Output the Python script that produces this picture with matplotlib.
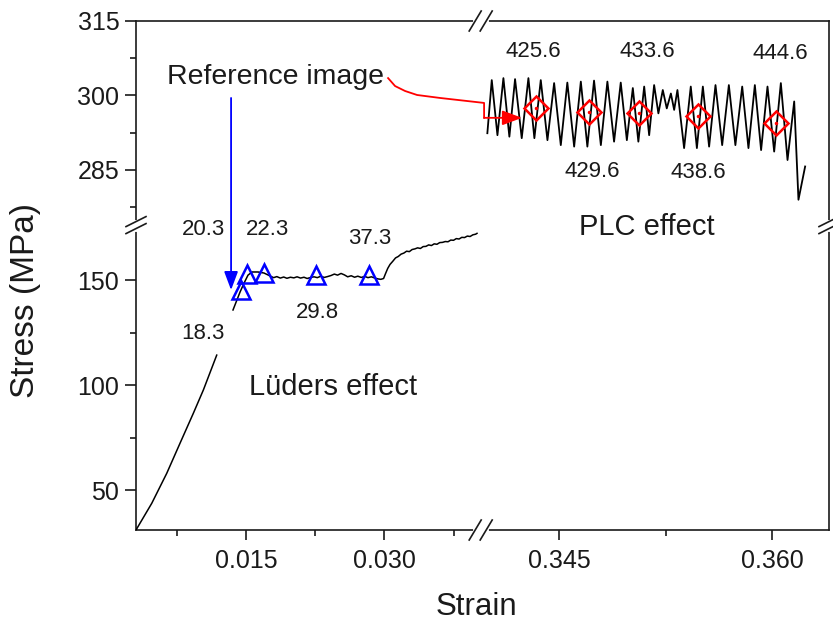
import numpy as np
import matplotlib
matplotlib.use('Agg')
import matplotlib.pyplot as plt

plt.rcParams['font.family'] = ['Liberation Sans', 'DejaVu Sans']

# ---------------- data ----------------
nan = np.nan
luders_strain = [0.0030, 0.00471, 0.00634, 0.00778, 0.00923, 0.01032, 0.01177, nan,
                 0.01354, 0.01430, 0.01474, 0.01517, 0.01561, 0.01626, 0.01691, 0.01757,
                 0.01795, 0.01830, 0.01868, 0.01905, 0.01940, 0.01978, 0.02015, 0.02050,
                 0.02088, 0.02125, 0.02160, 0.02198, 0.02235, 0.02270, 0.02308, 0.02345,
                 0.02380, 0.02418, 0.02455, 0.02490, 0.02528, 0.02565, 0.02600, 0.02638,
                 0.02675, 0.02710, 0.02748, 0.02785, 0.02820, 0.02858, 0.02895, 0.02930,
                 0.02960, 0.02990, 0.03010, 0.03035, 0.03060, 0.03090, 0.03120, 0.03150,
                 0.03180, 0.03210, 0.03240, 0.03270, 0.03300, 0.03330, 0.03360, 0.03390,
                 0.03420, 0.03450, 0.03480, 0.03510, 0.03540, 0.03570, 0.03600, 0.03630,
                 0.03660, 0.03690, 0.03720, 0.03750, 0.03780, 0.03810, 0.03840, 0.03870,
                 0.03900, 0.03930, 0.03960, 0.03990, 0.04005]
luders_stress = [31.0, 43.7, 58.0, 72.3, 86.6, 97.7, 114.3, nan,
                 135.8, 144.3, 148.6, 152.4, 153.9, 153.9, 153.4, 152.0,
                 151.2, 151.7, 151.0, 151.5, 150.9, 151.4, 151.1, 151.6,
                 151.0, 151.4, 150.8, 151.3, 151.6, 151.2, 151.9, 151.3,
                 151.7, 152.2, 152.9, 152.4, 153.2, 152.5, 151.6, 152.1,
                 151.4, 151.9, 151.3, 151.8, 151.2, 151.6, 151.0, 150.6,
                 150.4, 150.8, 153.0, 155.6, 157.5, 159.0, 160.6, 161.3,
                 162.4, 162.9, 163.8, 163.6, 164.6, 164.9, 165.4, 165.1,
                 166.0, 166.1, 166.8, 166.5, 167.3, 167.1, 167.9, 168.0,
                 168.4, 168.3, 169.1, 169.0, 169.8, 169.6, 170.4, 170.3,
                 171.0, 170.8, 171.6, 171.9, 172.3]

plc_peak_strain = [0.34026, 0.34108, 0.34190, 0.34284, 0.34371, 0.34465, 0.34558, 0.34653, 0.34746,
                   0.34840, 0.34934, 0.35019, 0.35099, 0.35169, 0.35230, 0.35287, 0.35333, 0.35427,
                   0.35512, 0.35601, 0.35695, 0.35789, 0.35878, 0.35967, 0.36061, 0.36155]
plc_peak_stress = [303.1, 303.5, 303.3, 303.5, 303.1, 302.5, 302.6, 302.8, 303.0,
                   302.8, 302.6, 301.5, 301.8, 302.1, 301.1, 300.4, 301.1, 301.8,
                   301.8, 302.1, 302.1, 301.8, 302.1, 301.8, 302.5, 298.8]
plc_trough_strain = [0.34066, 0.34150, 0.34237, 0.34326, 0.34418, 0.34512, 0.34606, 0.34699, 0.34794,
                     0.34887, 0.34977, 0.35058, 0.35134, 0.35199, 0.35258, 0.35310, 0.35380, 0.35470,
                     0.35556, 0.35648, 0.35741, 0.35833, 0.35922, 0.36014, 0.36108]
plc_trough_stress = [292.0, 291.7, 291.4, 291.4, 291.0, 290.0, 289.7, 289.7, 290.0,
                     290.7, 291.0, 290.7, 292.0, 296.4, 297.4, 297.1, 289.4, 289.4,
                     289.7, 290.0, 290.0, 289.4, 289.0, 288.7, 287.0]
plc_start = (0.33995, 292.4)
plc_end_strain = [0.36185, 0.36232]
plc_end_stress = [279.0, 285.7]

tri_strain = [0.01441, 0.01507, 0.01691, 0.02257, 0.02833]
tri_stress = [145.3, 152.9, 153.4, 152.4, 152.4]
tri_labels = ['18.3', '20.3', '22.3', '29.8', '37.3']
tri_label_pos = [(0.01028, 124.8), (0.01028, 173.9), (0.01724, 173.9), (0.02267, 134.8), (0.02843, 170.0)]

dia_strain = [0.34338, 0.34711, 0.35063, 0.35479, 0.36028]
dia_stress = [297.5, 296.7, 296.5, 295.9, 294.5]
dia_labels = ['425.6', '429.6', '433.6', '438.6', '444.6']
dia_label_pos = [(0.34317, 308.8), (0.34732, 284.6), (0.35120, 308.8), (0.35479, 284.4), (0.36056, 308.4)]

ref_arrow_strain = [0.03039, 0.03115, 0.03224, 0.03354, 0.03604, 0.33972, 0.33972, 0.34239]
ref_arrow_stress = [303.5, 301.9, 300.9, 300.1, 299.5, 298.5, 295.5, 295.5]
blue_arrow_strain = 0.01333
blue_arrow_stress = (299.5, 145.3)

xticks_major = [0.015, 0.030, 0.345, 0.360]
xtick_labels = ['0.015', '0.030', '0.345', '0.360']
xticks_minor = [0.0075, 0.0225, 0.0375, 0.3525]
yticks_major = [50, 100, 150, 285, 300, 315]
ytick_labels = ['50', '100', '150', '285', '300', '315']
yticks_minor = [75, 125, 277.5, 292.5, 307.5]

# ---------------- broken scales ----------------
X0, XA, XB, X1 = 0.003, 0.0403, 0.33958, 0.364
KX1, KX2 = 9200.0, 14200.0
UA = (XA - X0) * KX1
UB = UA + 2.8


def xf(x):
    x = np.asarray(x, float)
    return np.where(x <= XA, (x - X0) * KX1,
                    np.where(x >= XB, UB + (x - XB) * KX2,
                             UA + (x - XA) * (UB - UA) / (XB - XA)))


def xi(u):
    u = np.asarray(u, float)
    return np.where(u <= UA, X0 + u / KX1,
                    np.where(u >= UB, XB + (u - UB) / KX2,
                             XA + (u - UA) * (XB - XA) / (UB - UA)))


Y0, YA, YB, Y1 = 31.0, 176.0, 274.0, 315.0
KY1, KY2 = 2.1, 4.967
VA = (YA - Y0) * KY1
VB = VA + 1.0


def yf(y):
    y = np.asarray(y, float)
    return np.where(y <= YA, (y - Y0) * KY1,
                    np.where(y >= YB, VB + (y - YB) * KY2,
                             VA + (y - YA) * (VB - VA) / (YB - YA)))


def yi(v):
    v = np.asarray(v, float)
    return np.where(v <= VA, Y0 + v / KY1,
                    np.where(v >= VB, YB + (v - VB) / KY2,
                             YA + (v - VA) * (YB - YA) / (VB - VA)))


W, H = 833, 625
fig = plt.figure(figsize=(W / 100, H / 100), dpi=100)
ax = fig.add_axes([136 / W, 95 / H, 693 / W, 509 / H])
ax.set_xscale('function', functions=(xf, xi))
ax.set_yscale('function', functions=(yf, yi))
ax.set_xlim(X0, X1)
ax.set_ylim(Y0, Y1)

# curves
ax.plot(luders_strain, luders_stress, color='black', lw=1.1, zorder=3)
plc_x = [plc_start[0]]
plc_y = [plc_start[1]]
for i in range(len(plc_trough_strain)):
    plc_x += [plc_peak_strain[i], plc_trough_strain[i]]
    plc_y += [plc_peak_stress[i], plc_trough_stress[i]]
plc_x += [plc_peak_strain[-1]] + plc_end_strain
plc_y += [plc_peak_stress[-1]] + plc_end_stress
ax.plot(plc_x, plc_y, color='black', lw=1.3, zorder=3)

# markers
ax.plot(tri_strain, tri_stress, '^', ms=13, mfc='none', mec='#0000ff', mew=1.8, zorder=4)
ax.plot(dia_strain, dia_stress, 'D', ms=12.5, mfc='none', mec='#ff0000', mew=1.8, zorder=4)
ax.plot(dia_strain, dia_stress, '.', ms=3, color='#ff0000', zorder=4)

# arrows
ax.annotate('', xy=(blue_arrow_strain, blue_arrow_stress[1]),
            xytext=(blue_arrow_strain, blue_arrow_stress[0]),
            arrowprops=dict(arrowstyle='-|>,head_length=0.8,head_width=0.3', color='#0000ff',
                            lw=1.3, shrinkA=0, shrinkB=0, mutation_scale=14), zorder=5)
ax.plot(ref_arrow_strain[:-1], ref_arrow_stress[:-1], color='#ff0000', lw=1.3, zorder=5)
ax.annotate('', xy=(ref_arrow_strain[-1], ref_arrow_stress[-1]),
            xytext=(ref_arrow_strain[-2], ref_arrow_stress[-2]),
            arrowprops=dict(arrowstyle='-|>,head_length=0.8,head_width=0.3', color='#ff0000',
                            lw=1.3, shrinkA=0, shrinkB=0, mutation_scale=15), zorder=5)

# texts
for lab, (lx, ly) in zip(tri_labels, tri_label_pos):
    ax.text(lx, ly, lab, fontsize=16, ha='center', va='center', color='#1a1a1a')
for lab, (lx, ly) in zip(dia_labels, dia_label_pos):
    ax.text(lx, ly, lab, fontsize=16, ha='center', va='center', color='#1a1a1a')
ax.text(0.01811, 303.7, 'Reference image', fontsize=20.5, ha='center', va='center', color='#1a1a1a')
ax.text(0.02441, 99.1, 'Lüders effect', fontsize=21, ha='center', va='center', color='#1a1a1a')
ax.text(0.35120, 175.3, 'PLC effect', fontsize=21, ha='center', va='center', color='#1a1a1a')

# axes styling
ax.set_xticks(xticks_major)
ax.set_xticklabels(xtick_labels)
ax.set_xticks(xticks_minor, minor=True)
ax.set_yticks(yticks_major)
ax.set_yticklabels(ytick_labels)
ax.set_yticks(yticks_minor, minor=True)
ax.tick_params(which='both', direction='out', top=False, right=False, width=1.2,
               labelsize=18, colors='#1a1a1a')
ax.tick_params(axis='x', which='major', length=7.5, pad=6)
ax.tick_params(axis='y', which='major', length=8, pad=4)
ax.tick_params(which='minor', length=4.5)
for s in ax.spines.values():
    s.set_linewidth(1.2)
    s.set_color('#1a1a1a')

ax.set_xlabel('Strain', fontsize=22.5, va='center', color='#1a1a1a')
ax.xaxis.set_label_coords((476 - 136) / 693, (530 - 607) / 509)
ax.set_ylabel('Stress (MPa)', fontsize=24, va='center', color='#1a1a1a')
ax.yaxis.set_label_coords((26 - 136) / 693, (530 - 301) / 509)

# break marks
PXW, PXH = 693.0, 509.0
bx = float((UA + UB) / 2 / xf(X1))
by = float((VA + VB) / 2 / yf(Y1))
kw = dict(transform=ax.transAxes, clip_on=False)
for v in (0.0, 1.0):
    ax.plot([bx - 5.5 / PXW, bx + 5.5 / PXW], [v, v], color='white', lw=3.5, zorder=6, **kw)
    for off in (-5.5, 5.5):
        ax.plot([bx + (off - 6) / PXW, bx + (off + 6) / PXW], [v - 10 / PXH, v + 10 / PXH],
                color='#1a1a1a', lw=1.2, zorder=7, **kw)
for u in (0.0, 1.0):
    ax.plot([u, u], [by - 3.5 / PXH, by + 3.5 / PXH], color='white', lw=3.5, zorder=6, **kw)
    for off in (-3.5, 3.5):
        ax.plot([u - 10 / PXW, u + 10 / PXW], [by + (off - 5) / PXH, by + (off + 5) / PXH],
                color='#1a1a1a', lw=1.2, zorder=7, **kw)

fig.savefig('out.png', dpi=100)
